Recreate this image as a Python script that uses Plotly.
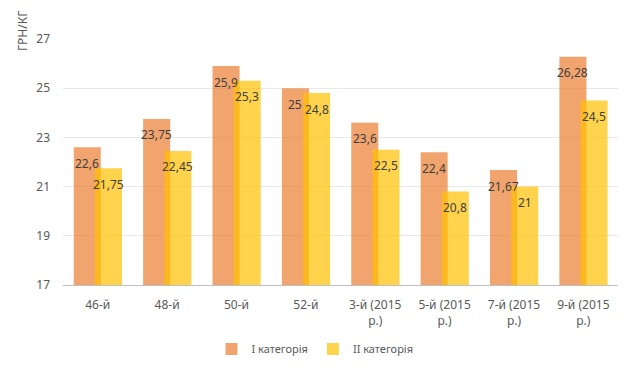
import plotly.graph_objects as go

categories = ["46-й", "48-й", "50-й", "52-й", "3-й (2015<br>р.)", "5-й (2015<br>р.)", "7-й (2015<br>р.)", "9-й (2015<br>р.)"]
cat1 = [22.6, 23.75, 25.9, 25.0, 23.6, 22.4, 21.67, 26.28]
cat2 = [21.75, 22.45, 25.3, 24.8, 22.5, 20.8, 21.0, 24.5]
series_names = ["I категорія", "II категорія"]
y_ticks = [17, 19, 21, 23, 25, 27]

FONT = "Noto Sans"
PAGE_PAD = 8  # default body margin of the page
W, H = 632 - PAGE_PAD, 370 - PAGE_PAD
L, R, T, B = 63 - PAGE_PAD, 14, 39 - PAGE_PAD, 85
BW = 0.39
offsets = [-0.345, -0.04]
colors = ["rgba(237,125,49,0.7)", "rgba(255,192,0,0.7)"]

def fmt(v):
    return f"{v:g}".replace(".", ",")

fig = go.Figure()
for name, vals, off, col in zip(series_names, [cat1, cat2], offsets, colors):
    fig.add_trace(go.Bar(x=categories, y=vals, name=name, offset=off, width=BW,
                         marker=dict(color=col, line=dict(width=0)),
                         hoverinfo="skip"))

plot_w = W - L - R
plot_h = H - T - B
px_per_cat = plot_w / len(categories)
annotations = []
for vals, off in zip([cat1, cat2], offsets):
    shift = (off + BW / 2) * px_per_cat
    for i, v in enumerate(vals):
        annotations.append(dict(x=categories[i], y=v, xref="x", yref="y", text=fmt(v),
                                showarrow=False, xshift=shift, yshift=-16,
                                xanchor="center", yanchor="middle",
                                font=dict(family=FONT, size=12, color="#404040")))
annotations.append(dict(text="ГРН/КГ", xref="paper", yref="paper", x=0, y=1, xshift=-41, yshift=8,
                        xanchor="center", yanchor="middle", textangle=-90, showarrow=False,
                        font=dict(family=FONT, size=12, color="#595959")))

fig.update_layout(
    width=W, height=H, barmode="overlay",
    margin=dict(l=L, r=R, t=T, b=B, autoexpand=False),
    paper_bgcolor="white", plot_bgcolor="white",
    font=dict(family=FONT, size=12, color="#595959"),
    annotations=annotations,
    showlegend=True,
    legend=dict(orientation="h", x=(307 - L) / plot_w, xanchor="center",
                y=-(349 - 285) / plot_h, yanchor="middle",
                font=dict(family=FONT, size=11, color="#595959"),
                traceorder="normal", bgcolor="rgba(0,0,0,0)", itemwidth=30),
    xaxis=dict(showgrid=False, showline=True, linecolor="#BFBFBF", linewidth=1,
               ticks="", tickfont=dict(family=FONT, size=12, color="#595959"),
               ticklabelstandoff=9, tickangle=0, automargin=False,
               range=[-0.5, len(categories) - 0.5]),
    yaxis=dict(range=[17, 27], tickvals=y_ticks, showgrid=True, gridcolor="#E8E8E8",
               zeroline=False, showline=False, ticks="", automargin=False,
               tickfont=dict(family=FONT, size=12, color="#595959"),
               ticklabelstandoff=12),
)

fig.write_html("out.html")
